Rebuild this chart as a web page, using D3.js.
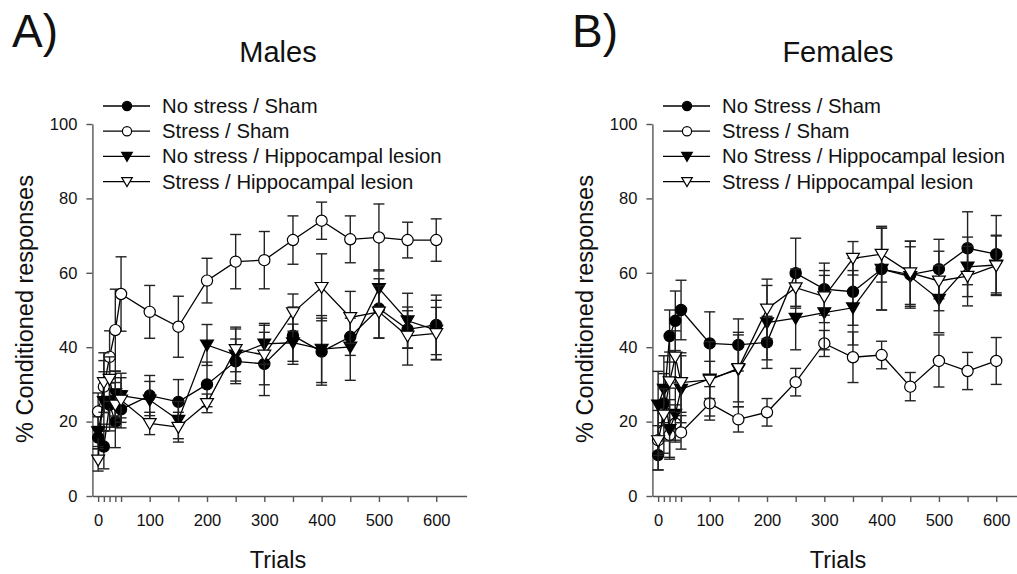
<!DOCTYPE html>
<html>
<head>
<meta charset="utf-8">
<script src="https://cdn.jsdelivr.net/npm/d3@7"></script>
<style>
  body { margin: 0; background: #fff; }
  text { font-family: "Liberation Sans", Arial, sans-serif; fill: #111; }
  .axis path, .axis line { stroke: #555; stroke-width: 1.4; }
  .axis text { font-size: 16.5px; fill: #111; }
</style>
</head>
<body>
<div id="vis"></div>
<script>
// trial blocks on the x axis
const trials = [10, 20, 30, 40, 50, 100, 150, 200, 250, 300, 350, 400, 450, 500, 550, 600];

// Males (panel A)
const maleNsSham = [15.7, 13.3, 24.5, 20.0, 23.3, 27.0, 25.3, 30.0, 36.2, 35.5, 43.1, 38.8, 42.8, 50.4, 44.8, 46.0];
const maleNsShamErr = [3, 6, 7, 7, 5, 5.4, 6, 6, 6, 8.5, 7.7, 9, 5, 8, 5, 8];
const maleSSham = [22.7, 29.4, 37.4, 44.6, 54.3, 49.5, 45.5, 57.9, 63.0, 63.4, 68.8, 74.0, 69.0, 69.5, 68.8, 68.8];
const maleSShamErr = [5, 7, 7, 11, 10, 7.1, 8.2, 6, 7.3, 7.7, 6.5, 5, 6.3, 9, 4.8, 5.7];
const maleNsHippo = [17.3, 25.4, 25.5, 27.5, 27.0, 25.8, 20.4, 40.6, 37.9, 40.9, 41.2, 39.5, 40.1, 55.8, 47.1, 44.6];
const maleNsHippoErr = [4, 8, 7, 6, 6, 5, 5, 5.5, 7, 5.5, 5, 9, 9, 5, 7.4, 8];
const maleSHippo = [9.7, 30.5, 31.4, 24.5, 25.8, 19.5, 18.5, 24.9, 39.4, 37.9, 49.3, 56.1, 48.0, 49.5, 43.0, 43.7];
const maleSHippoErr = [3, 8, 6, 6, 6, 3, 4, 2.5, 6, 8, 5, 9, 7, 7, 7.8, 7];

// Females (panel B)
const femNsSham = [11.0, 24.9, 43.0, 47.1, 50.0, 41.0, 40.6, 41.3, 59.9, 55.6, 54.9, 61.0, 59.5, 61.0, 66.6, 65.0];
const femNsShamErr = [4, 8, 7, 8, 8, 8.5, 7, 7, 9.4, 7, 9, 11, 9, 8, 9.8, 10.4];
const femSSham = [15.0, 17.5, 16.4, 19.5, 17.1, 24.9, 20.6, 22.5, 30.6, 41.0, 37.3, 37.9, 29.4, 36.3, 33.6, 36.3];
const femSShamErr = [8, 6, 6, 5, 4.5, 4.5, 3.4, 3.7, 3.7, 3.5, 6.8, 3.7, 3.8, 7, 5, 6.3];
const femNsHippo = [24.5, 28.7, 17.9, 22.0, 28.7, 31.5, 34.0, 46.6, 47.8, 49.3, 50.6, 61.0, 59.0, 52.9, 61.6, 62.1];
const femNsHippoErr = [9, 9, 8, 7, 9, 10, 10, 10, 8.5, 10, 10, 11, 8, 9, 8, 8];
const femSHippo = [14.9, 21.8, 30.7, 37.4, 30.5, 31.2, 34.3, 50.3, 56.0, 53.6, 63.9, 65.0, 60.0, 57.8, 59.1, 61.9];
const femSHippoErr = [4, 7, 8, 7, 8, 5, 9, 8, 5, 7, 4.5, 7.5, 8.5, 8, 8, 8];

const maleNames = ['No stress / Sham', 'Stress / Sham', 'No stress / Hippocampal lesion', 'Stress / Hippocampal lesion'];
const femNames = ['No Stress / Sham', 'Stress / Sham', 'No Stress / Hippocampal lesion', 'Stress / Hippocampal lesion'];

const xTicks = [10, 20, 30, 40, 50, 100, 150, 200, 250, 300, 350, 400, 450, 500, 550, 600];
const xTickLabels = {10: '0', 100: '100', 200: '200', 300: '300', 400: '400', 500: '500', 600: '600'};
const yTicks = [0, 20, 40, 60, 80, 100];

// marker style per series: shape + fill
const styles = [
  {shape: 'circle', fill: '#000'},
  {shape: 'circle', fill: '#fff'},
  {shape: 'tri', fill: '#000'},
  {shape: 'tri', fill: '#fff'}
];

const svg = d3.select('#vis').append('svg')
  .attr('width', 1017)
  .attr('height', 574);

let drawMarker = (g, shape, fill, x, y, r) => {
  if (shape === 'circle') {
    g.append('circle').attr('cx', x).attr('cy', y).attr('r', r)
      .attr('fill', fill).attr('stroke', '#000').attr('stroke-width', 1.2);
  } else {
    let s = r * 1.15;
    g.append('path')
      .attr('d', `M${x - s},${y - s * 0.75}L${x + s},${y - s * 0.75}L${x},${y + s * 0.95}Z`)
      .attr('fill', fill).attr('stroke', '#000').attr('stroke-width', 1.2);
  }
};

let drawPanel = (dx, letter, title, names, series) => {
  let g = svg.append('g').attr('transform', `translate(${dx},0)`);

  let xScale = d3.scaleLinear().domain([0, 653]).range([92.4, 466.6]);
  let yScale = d3.scaleLinear().domain([0, 100]).range([496, 124]);

  let xAxis = d3.axisBottom(xScale)
    .tickValues(xTicks)
    .tickFormat(d => xTickLabels[d] || '')
    .tickSize(6).tickSizeOuter(0).tickPadding(12);
  let yAxis = d3.axisLeft(yScale)
    .tickValues(yTicks)
    .tickSize(6).tickSizeOuter(0).tickPadding(9);

  g.append('g').attr('class', 'axis').attr('transform', 'translate(0,496)').call(xAxis);
  g.append('g').attr('class', 'axis').attr('transform', 'translate(92.4,0)').call(yAxis);

  // data
  let line = d3.line().x((d, i) => xScale(trials[i])).y(d => yScale(d));
  series.forEach((s, k) => {
    let sg = g.append('g');
    s.values.forEach((v, i) => {
      let x = xScale(trials[i]);
      let y0 = yScale(v - s.err[i]), y1 = yScale(v + s.err[i]);
      sg.append('line').attr('x1', x).attr('x2', x).attr('y1', y0).attr('y2', y1)
        .attr('stroke', '#222').attr('stroke-width', 1.4);
      [y0, y1].forEach(yy => sg.append('line')
        .attr('x1', x - 5.5).attr('x2', x + 5.5).attr('y1', yy).attr('y2', yy)
        .attr('stroke', '#222').attr('stroke-width', 1.4));
    });
    sg.append('path').attr('d', line(s.values))
      .attr('fill', 'none').attr('stroke', '#000').attr('stroke-width', 1.3);
    s.values.forEach((v, i) => {
      drawMarker(sg, styles[k].shape, styles[k].fill, xScale(trials[i]), yScale(v), 5.6);
    });
  });

  // legend
  names.forEach((name, k) => {
    let ly = 106 + k * 25.2;
    g.append('line').attr('x1', 103).attr('x2', 150).attr('y1', ly).attr('y2', ly)
      .attr('stroke', '#000').attr('stroke-width', 1.3);
    drawMarker(g, styles[k].shape, styles[k].fill, 127, ly, 4.6);
    g.append('text').attr('x', 162).attr('y', ly + 7).style('font-size', '20.3px').text(name);
  });

  // texts
  g.append('text').attr('x', 12).attr('y', 47).style('font-size', '46px').text(letter);
  g.append('text').attr('x', 278).attr('y', 62).attr('text-anchor', 'middle')
    .style('font-size', '29px').text(title);
  g.append('text').attr('x', 278).attr('y', 568).attr('text-anchor', 'middle')
    .style('font-size', '23.5px').text('Trials');
  g.append('text').attr('transform', 'translate(33,309) rotate(-90)')
    .attr('text-anchor', 'middle').style('font-size', '23.5px').text('% Conditioned responses');
};

drawPanel(0, 'A)', 'Males', maleNames, [
  {values: maleNsSham, err: maleNsShamErr},
  {values: maleSSham, err: maleSShamErr},
  {values: maleNsHippo, err: maleNsHippoErr},
  {values: maleSHippo, err: maleSHippoErr}
]);
drawPanel(560, 'B)', 'Females', femNames, [
  {values: femNsSham, err: femNsShamErr},
  {values: femSSham, err: femSShamErr},
  {values: femNsHippo, err: femNsHippoErr},
  {values: femSHippo, err: femSHippoErr}
]);
</script>
</body>
</html>
